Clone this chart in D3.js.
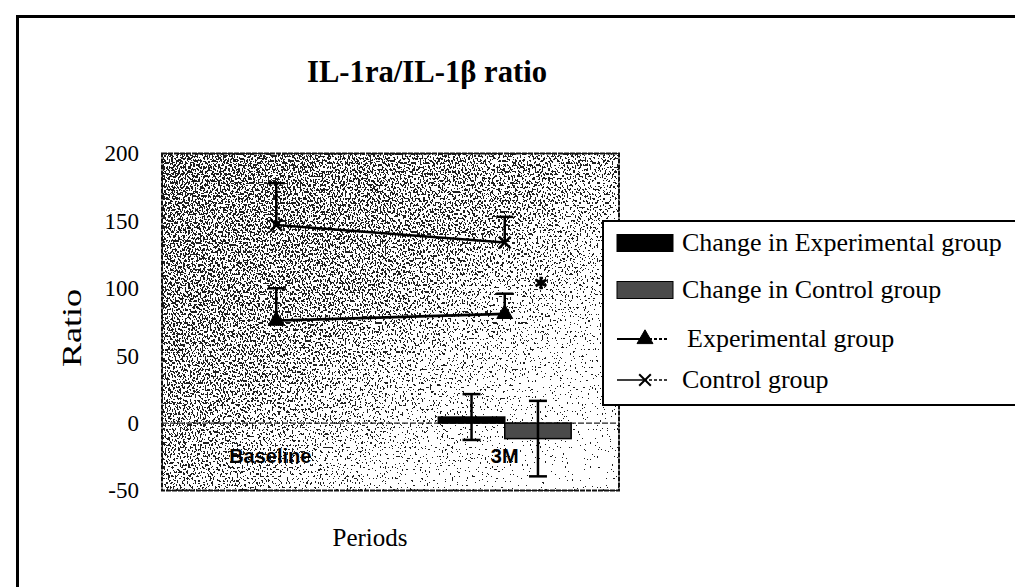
<!DOCTYPE html>
<html>
<head>
<meta charset="utf-8">
<script src="https://cdn.jsdelivr.net/npm/d3@7"></script>
<style>
  body { margin: 0; background: #fff; }
  svg text { font-family: "Liberation Serif", "Times New Roman", serif; fill: #000; }
  .cat-label text { font-family: "Liberation Sans", Arial, sans-serif; font-weight: bold; }
</style>
</head>
<body>
<svg id="chart" width="1015" height="587"></svg>
<script>
// values
const periods = ["Baseline", "3M"];
const yTicks = [-50, 0, 50, 100, 150, 200];

const experimentalMean = [76, 81];
const experimentalErr = [24, 15];
const controlMean = [147, 134];
const controlErr = [31, 19];

const changeGroups = ["Change in Experimental group", "Change in Control group"];
const changeMean = [4.5, -11.5];
const changeErr = [17, 28];

// significance mark sits above the control change bar
const starGroup = "Change in Control group";
const starValue = 104;

const legendLabels = [
  "Change in Experimental group",
  "Change in Control group",
  "Experimental group",
  "Control group",
];

class ChangePlot {
  constructor(parent) {
    this.parent = parent;
    this.margin = { top: 153.5, left: 162 };
    this.width = 457;
    this.height = 337;
    this.initVis();
  }

  initVis() {
    let vis = this;
    vis.svg = d3.select(vis.parent);

    const defs = vis.svg.append("defs");
    const grad = defs
      .append("linearGradient")
      .attr("id", "bgGrad")
      .attr("x1", 0).attr("y1", 0)
      .attr("x2", 1).attr("y2", 1);
    grad.append("stop").attr("offset", "0%").attr("stop-color", "#7e7e7e");
    grad.append("stop").attr("offset", "45%").attr("stop-color", "#989898");
    grad.append("stop").attr("offset", "75%").attr("stop-color", "#d4d4d4");
    grad.append("stop").attr("offset", "100%").attr("stop-color", "#efefef");

    // halftone-ish speckle, like the photocopied original
    const f = defs
      .append("filter")
      .attr("id", "dither")
      .attr("x", 0).attr("y", 0)
      .attr("width", "100%").attr("height", "100%")
      .attr("color-interpolation-filters", "sRGB");
    f.append("feTurbulence")
      .attr("type", "fractalNoise")
      .attr("baseFrequency", "0.6 0.45")
      .attr("numOctaves", 1)
      .attr("seed", 7)
      .attr("result", "noise");
    f.append("feColorMatrix")
      .attr("in", "noise")
      .attr("type", "matrix")
      .attr("values", "1 0 0 0 0  1 0 0 0 0  1 0 0 0 0  0 0 0 0 1")
      .attr("result", "gray");
    f.append("feComposite")
      .attr("in", "SourceGraphic")
      .attr("in2", "gray")
      .attr("operator", "arithmetic")
      .attr("k1", 0).attr("k2", 1).attr("k3", 2).attr("k4", -1)
      .attr("result", "mix");
    const ct = f.append("feComponentTransfer").attr("in", "mix");
    ["feFuncR", "feFuncG", "feFuncB"].forEach((fn) =>
      ct.append(fn).attr("type", "discrete").attr("tableValues", "0.12 1")
    );

    // outer frame of the figure (runs off the right and bottom)
    vis.svg
      .append("rect")
      .attr("x", 17.5)
      .attr("y", 16.5)
      .attr("width", 1200)
      .attr("height", 800)
      .attr("fill", "none")
      .attr("stroke", "#000")
      .attr("stroke-width", 3);

    vis.chart = vis.svg
      .append("g")
      .attr("transform", `translate(${vis.margin.left}, ${vis.margin.top})`);

    vis.x_scale = d3.scaleBand().domain(periods).range([0, vis.width]);
    vis.bar_scale = d3
      .scaleBand()
      .domain(changeGroups)
      .range([0, vis.x_scale.bandwidth()])
      .paddingInner(0)
      .paddingOuter(0.72);
    vis.y_scale = d3.scaleLinear().domain([-50, 200]).range([vis.height, 0]);

    vis.renderVis();
  }

  renderVis() {
    let vis = this;
    const x = vis.x_scale;
    const y = vis.y_scale;
    const cx = (p) => x(p) + x.bandwidth() / 2;

    vis.chart
      .append("rect")
      .attr("width", vis.width)
      .attr("height", vis.height)
      .attr("fill", "url(#bgGrad)")
      .attr("filter", "url(#dither)");
    vis.chart
      .append("rect")
      .attr("width", vis.width)
      .attr("height", vis.height)
      .attr("fill", "none")
      .attr("stroke", "#111")
      .attr("stroke-width", 2)
      .attr("stroke-dasharray", "5 1");

    // zero line
    vis.chart
      .append("line")
      .attr("x1", 0)
      .attr("x2", vis.width)
      .attr("y1", y(0))
      .attr("y2", y(0))
      .attr("stroke", "#222")
      .attr("stroke-width", 1.3)
      .attr("stroke-dasharray", "6 2");

    const yAxisG = vis.chart.append("g").attr("class", "y-axis");
    yAxisG.call(
      d3.axisLeft(y)
        .tickValues(yTicks)
        .tickFormat((d) => String(d))
        .tickSize(0)
        .tickPadding(23)
    );
    yAxisG.select(".domain").remove();
    yAxisG.selectAll("text").style("font-size", "23px").style("font-family", null);

    const xAxisG = vis.chart
      .append("g")
      .attr("class", "cat-label")
      .attr("transform", `translate(0, ${y(0)})`);
    xAxisG.call(d3.axisBottom(x).tickSize(0).tickPadding(26));
    xAxisG.select(".domain").remove();
    xAxisG.selectAll("text").style("font-size", "20px").attr("dx", "-0.3em");
    xAxisG.selectAll("text").filter((d) => d === "3M").attr("dx", 0);

    // change bars at 3M
    const changeData = changeGroups.map((g, i) => ({
      group: g,
      value: changeMean[i],
      err: changeErr[i],
      x: x("3M") + vis.bar_scale(g),
    }));
    const bw = vis.bar_scale.bandwidth();

    vis.chart
      .selectAll(".bar")
      .data(changeData)
      .join("rect")
      .attr("class", "bar")
      .attr("x", (d) => d.x)
      .attr("y", (d) => y(Math.max(0, d.value)))
      .attr("width", bw)
      .attr("height", (d) => Math.abs(y(d.value) - y(0)))
      .attr("fill", (d, i) => (i === 0 ? "#000" : "#4a4a4a"))
      .attr("stroke", "#000")
      .attr("stroke-width", 1.5);

    const barErr = vis.chart
      .selectAll(".bar-err")
      .data(changeData)
      .join("g")
      .attr("class", "bar-err")
      .attr("stroke", "#000")
      .attr("stroke-width", 2.5);
    barErr
      .append("line")
      .attr("x1", (d) => d.x + bw / 2)
      .attr("x2", (d) => d.x + bw / 2)
      .attr("y1", (d) => y(d.value + d.err))
      .attr("y2", (d) => y(d.value - d.err));
    [1, -1].forEach((s) => {
      barErr
        .append("line")
        .attr("x1", (d) => d.x + bw / 2 - 9)
        .attr("x2", (d) => d.x + bw / 2 + 9)
        .attr("y1", (d) => y(d.value + s * d.err))
        .attr("y2", (d) => y(d.value + s * d.err));
    });

    // group lines
    const series = [
      { name: "Experimental group", mean: experimentalMean, err: experimentalErr, symbol: d3.symbolTriangle, filled: true },
      { name: "Control group", mean: controlMean, err: controlErr, symbol: d3.symbolTimes, filled: false },
    ];
    const line = d3
      .line()
      .x((d) => cx(d.period))
      .y((d) => y(d.value));

    series.forEach((s) => {
      const pts = periods.map((p, i) => ({ period: p, value: s.mean[i], err: s.err[i] }));
      const g = vis.chart.append("g");
      g.append("path")
        .attr("d", line(pts))
        .attr("fill", "none")
        .attr("stroke", "#000")
        .attr("stroke-width", 2.6);
      pts.forEach((d) => {
        g.append("line")
          .attr("x1", cx(d.period))
          .attr("x2", cx(d.period))
          .attr("y1", y(d.value))
          .attr("y2", y(d.value + d.err))
          .attr("stroke", "#000")
          .attr("stroke-width", 2.5);
        g.append("line")
          .attr("x1", cx(d.period) - 8.5)
          .attr("x2", cx(d.period) + 8.5)
          .attr("y1", y(d.value + d.err))
          .attr("y2", y(d.value + d.err))
          .attr("stroke", "#000")
          .attr("stroke-width", 2.5);
        g.append("path")
          .attr("transform", `translate(${cx(d.period)}, ${y(d.value)})`)
          .attr("d", d3.symbol(s.symbol, s.filled ? 110 : 90)())
          .attr("fill", s.filled ? "#000" : "none")
          .attr("stroke", "#000")
          .attr("stroke-width", s.filled ? 1 : 2.5);
      });
    });

    // significance asterisk
    vis.chart
      .append("path")
      .attr(
        "transform",
        `translate(${x("3M") + vis.bar_scale(starGroup) + bw / 2 + 3}, ${y(starValue)})`
      )
      .attr("d", d3.symbol(d3.symbolAsterisk, 110)())
      .attr("fill", "none")
      .attr("stroke", "#000")
      .attr("stroke-width", 3);

    // titles
    vis.svg
      .append("text")
      .attr("x", 427)
      .attr("y", 82)
      .attr("text-anchor", "middle")
      .attr("textLength", 240)
      .attr("lengthAdjust", "spacingAndGlyphs")
      .style("font-size", "31px")
      .style("font-weight", "bold")
      .text("IL-1ra/IL-1β ratio");

    vis.svg
      .append("text")
      .attr("transform", "translate(81, 328) rotate(-90)")
      .attr("text-anchor", "middle")
      .attr("textLength", 78)
      .attr("lengthAdjust", "spacingAndGlyphs")
      .style("font-size", "28px")
      .text("Ratio");

    vis.svg
      .append("text")
      .attr("x", 370)
      .attr("y", 546)
      .attr("text-anchor", "middle")
      .style("font-size", "25px")
      .text("Periods");

    vis.renderLegend();
  }

  renderLegend() {
    let vis = this;
    const lg = vis.svg.append("g").attr("transform", "translate(603, 221)");
    lg.append("rect")
      .attr("width", 500)
      .attr("height", 184)
      .attr("fill", "#fff")
      .attr("stroke", "#000")
      .attr("stroke-width", 2);

    const rowY = [22, 69, 118, 159];
    const rows = lg
      .selectAll(".legend-row")
      .data(legendLabels)
      .join("g")
      .attr("class", "legend-row")
      .attr("transform", (d, i) => `translate(0, ${rowY[i]})`);

    rows.filter((d, i) => i < 2)
      .append("rect")
      .attr("x", 14)
      .attr("y", -8.5)
      .attr("width", 56)
      .attr("height", 17)
      .attr("fill", (d, i) => (i === 0 ? "#000" : "#4a4a4a"))
      .attr("stroke", "#000")
      .attr("stroke-width", 1);

    rows.filter((d, i) => i >= 2)
      .append("line")
      .attr("x1", 14)
      .attr("x2", 70)
      .attr("stroke", "#000")
      .attr("stroke-width", (d, i) => (i === 0 ? 2 : 1.3))
      .attr("stroke-dasharray", "30 2 3 2 3 2 3 2 3");

    rows.filter((d, i) => i >= 2)
      .append("path")
      .attr("transform", "translate(42, 0)")
      .attr("d", (d, i) => d3.symbol(i === 0 ? d3.symbolTriangle : d3.symbolTimes, i === 0 ? 110 : 90)())
      .attr("fill", (d, i) => (i === 0 ? "#000" : "none"))
      .attr("stroke", "#000")
      .attr("stroke-width", (d, i) => (i === 0 ? 1 : 2));

    rows.append("text")
      .attr("x", (d, i) => (i === 2 ? 84 : 79))
      .attr("dy", "0.32em")
      .style("font-size", "26px")
      .text((d) => d);
  }
}

new ChangePlot(document.getElementById("chart"));
</script>
</body>
</html>
